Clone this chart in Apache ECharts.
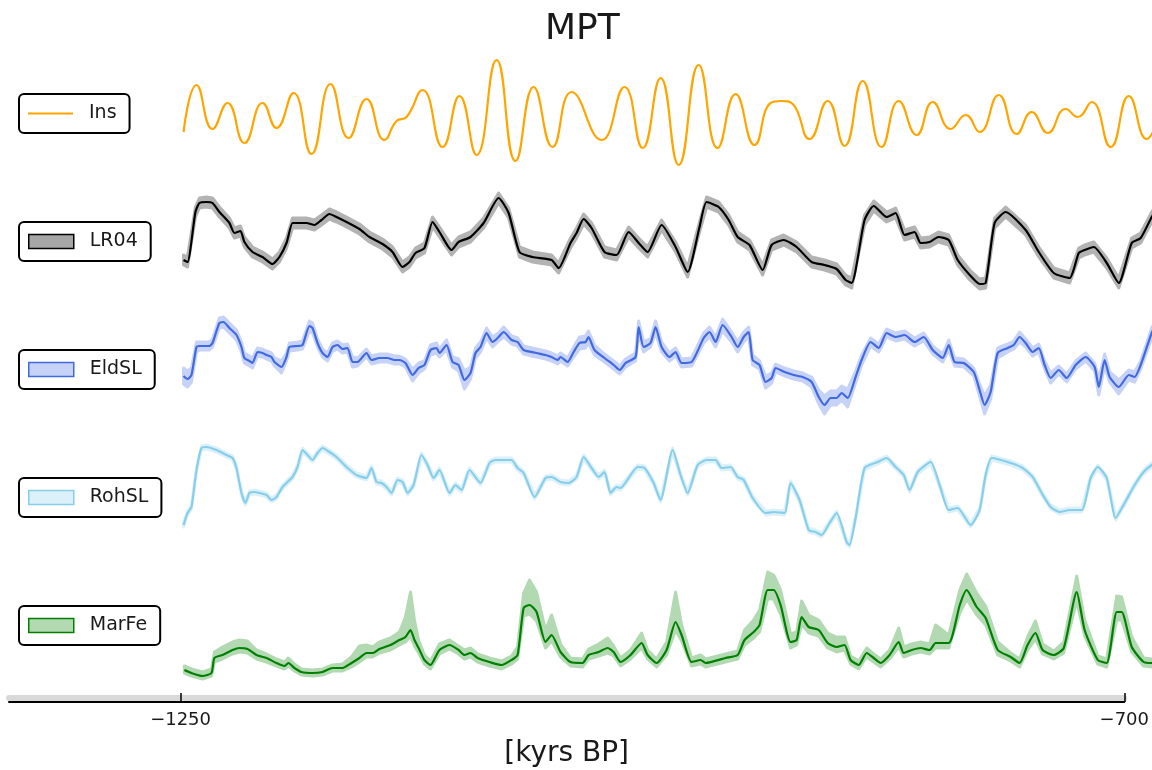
<!DOCTYPE html>
<html>
<head>
<meta charset="utf-8">
<script src="https://cdn.jsdelivr.net/npm/echarts@6/dist/echarts.min.js"></script>
<style>
  html, body { margin: 0; padding: 0; background: #fff; }
  #chart { width: 1152px; height: 770px; }
</style>
</head>
<body>
<div id="chart"></div>
<script>
// Age in kyr (negative = before present) paired with each record's value.

// 65°N summer insolation, W/m²
const ins = [[-1248.8,464],[-1241.3,511],[-1232.0,467],[-1223.3,493],[-1213.5,453],[-1203.0,493],[-1194.9,468],[-1185.0,503],[-1174.6,442],[-1163.6,512],[-1153.1,458],[-1142.7,497],[-1132.3,456],[-1125.3,475],[-1119.5,479],[-1110.2,506],[-1098.6,449],[-1088.8,500],[-1078.9,441],[-1067.3,536],[-1056.3,435],[-1045.8,509],[-1034.8,449],[-1023.8,504],[-1006.4,456],[-993.1,509],[-982.6,448],[-972.2,518],[-961.7,431],[-950.1,531],[-939.1,448],[-928.7,502],[-917.7,451],[-908.4,493],[-902.0,495],[-895.6,492],[-885.8,457],[-875.3,495],[-865.5,450],[-855.0,515],[-844.0,449],[-834.1,495],[-823.7,461],[-814.4,494],[-804.0,467],[-795.3,481],[-787.2,464],[-776.1,501],[-765.7,462],[-757.0,484],[-747.7,463],[-737.3,487],[-730.3,479],[-722.2,494],[-711.2,449],[-700.7,500],[-690.3,457],[-683.0,480]];

// LR04 benthic δ18O stack, ‰
const lr04 = [[-1248.8,4.48],[-1246.5,4.52],[-1241.9,3.52],[-1239.6,3.34],[-1235.5,3.32],[-1232.0,3.34],[-1228.0,3.52],[-1222.2,3.74],[-1219.3,3.94],[-1215.8,3.90],[-1213.5,4.12],[-1208.8,4.32],[-1203.0,4.42],[-1197.2,4.56],[-1193.2,4.42],[-1189.1,4.14],[-1185.6,3.74],[-1183.3,3.74],[-1177.5,3.74],[-1172.9,3.78],[-1168.8,3.68],[-1164.2,3.56],[-1160.1,3.62],[-1154.3,3.72],[-1146.8,3.86],[-1141.0,4.02],[-1133.4,4.16],[-1127.6,4.32],[-1121.8,4.62],[-1117.8,4.52],[-1114.3,4.34],[-1109.1,4.24],[-1104.4,3.72],[-1100.4,3.92],[-1093.4,4.28],[-1089.3,4.12],[-1082.4,4.02],[-1074.8,3.74],[-1066.1,3.24],[-1060.3,3.54],[-1054.0,4.32],[-1046.4,4.42],[-1035.4,4.48],[-1031.3,4.64],[-1024.4,4.14],[-1020.9,3.94],[-1016.8,3.66],[-1012.2,3.84],[-1004.7,4.32],[-997.7,4.38],[-990.7,3.92],[-984.9,4.14],[-979.7,4.32],[-971.6,3.78],[-963.5,4.22],[-956.5,4.72],[-949.6,3.82],[-945.5,3.32],[-938.5,3.42],[-932.7,3.68],[-927.5,4.02],[-920.6,4.18],[-913.0,4.68],[-907.8,4.18],[-900.8,4.08],[-893.3,4.22],[-884.6,4.52],[-877.1,4.58],[-870.1,4.66],[-864.9,4.88],[-861.4,4.94],[-853.9,3.68],[-848.6,3.40],[-841.1,3.62],[-835.9,3.54],[-830.7,3.98],[-824.9,3.92],[-821.4,4.14],[-816.2,4.12],[-811.1,4.02],[-805.1,4.08],[-799.9,4.48],[-792.9,4.78],[-787.2,4.96],[-783.7,4.94],[-778.5,3.74],[-772.1,3.52],[-760.5,3.88],[-752.9,4.32],[-744.2,4.74],[-735.0,4.84],[-729.7,4.34],[-726.3,4.28],[-721.0,4.22],[-713.5,4.54],[-706.5,4.94],[-699.0,4.14],[-693.8,4.04],[-687.4,3.62],[-682.8,3.38]];
const LR04_ERR = 0.1;

// Elderfield sea level, m, with 1σ
const eldSL = [[-1248.8,-72,8],[-1246.5,-75,8],[-1244.2,-71,7],[-1241.3,-43,5],[-1239.6,-42,4],[-1233.8,-42,4],[-1232.0,-39,4],[-1228.0,-19,5],[-1225.6,-18,5],[-1222.2,-24,5],[-1218.1,-31,5],[-1215.2,-43,5],[-1213.5,-54,5],[-1210.6,-57,5],[-1208.8,-59,5],[-1205.9,-48,4],[-1203.0,-49,4],[-1200.7,-51,4],[-1197.8,-53,4],[-1196.1,-58,4],[-1192.0,-63,6],[-1189.1,-53,4],[-1187.4,-43,4],[-1182.7,-42,4],[-1179.8,-41,4],[-1175.8,-22,5],[-1174.0,-24,5],[-1171.1,-39,4],[-1168.2,-49,4],[-1165.3,-53,4],[-1162.4,-43,4],[-1159.5,-41,4],[-1156.6,-45,4],[-1153.7,-44,4],[-1150.8,-58,5],[-1147.9,-58,4],[-1142.7,-49,4],[-1139.8,-56,4],[-1135.2,-54,4],[-1130.5,-54,4],[-1126.5,-56,4],[-1123.6,-56,4],[-1120.1,-59,4],[-1116.0,-71,6],[-1112.5,-64,5],[-1109.1,-61,4],[-1105.6,-46,5],[-1102.1,-44,5],[-1100.4,-49,4],[-1096.3,-41,5],[-1092.8,-58,5],[-1089.3,-61,6],[-1085.9,-76,9],[-1082.4,-69,6],[-1079.5,-49,5],[-1076.6,-43,5],[-1073.1,-29,5],[-1069.6,-38,5],[-1066.1,-33,4],[-1063.2,-28,5],[-1058.6,-36,4],[-1055.1,-38,4],[-1051.6,-46,4],[-1044.1,-49,4],[-1038.9,-51,4],[-1035.4,-53,4],[-1031.9,-56,4],[-1030.2,-53,4],[-1026.1,-58,4],[-1022.6,-48,5],[-1019.2,-39,6],[-1015.7,-38,6],[-1014.0,-33,6],[-1010.5,-46,5],[-1004.7,-54,4],[-999.4,-61,4],[-995.9,-66,4],[-992.5,-59,4],[-986.7,-53,4],[-984.9,-23,6],[-982.0,-43,5],[-978.0,-39,4],[-975.1,-23,6],[-971.6,-43,5],[-967.0,-53,4],[-963.5,-48,4],[-960.0,-59,4],[-954.2,-58,4],[-947.2,-34,5],[-943.8,-28,5],[-940.3,-38,5],[-936.2,-21,6],[-931.0,-33,5],[-927.5,-43,5],[-924.0,-33,5],[-921.1,-28,5],[-918.8,-56,5],[-914.8,-61,4],[-911.3,-78,6],[-907.8,-74,5],[-905.5,-64,4],[-900.3,-68,4],[-895.0,-71,4],[-889.8,-73,4],[-884.6,-78,5],[-880.5,-93,7],[-877.1,-101,9],[-873.6,-94,7],[-870.1,-94,7],[-867.2,-89,7],[-863.7,-94,9],[-859.1,-73,6],[-855.6,-56,5],[-850.4,-38,4],[-845.7,-44,4],[-841.1,-29,4],[-835.9,-33,4],[-830.7,-31,4],[-824.9,-38,4],[-819.6,-33,4],[-814.4,-46,4],[-808.6,-54,4],[-805.1,-41,5],[-801.7,-58,4],[-796.4,-59,4],[-790.6,-68,4],[-787.2,-86,6],[-784.3,-101,9],[-780.8,-88,7],[-776.7,-49,5],[-770.9,-44,4],[-767.4,-41,4],[-764.0,-33,5],[-760.5,-39,4],[-756.4,-48,4],[-752.9,-44,4],[-749.5,-61,4],[-746.0,-74,5],[-741.3,-66,4],[-736.7,-74,4],[-731.5,-61,4],[-725.7,-53,4],[-720.5,-63,4],[-718.1,-83,8],[-714.7,-56,6],[-711.8,-73,5],[-706.5,-83,7],[-700.7,-71,5],[-697.3,-73,5],[-693.8,-61,4],[-687.4,-29,5],[-684.0,-18,5]];

// Rohling sea level, m
const rohSL = [[-1248.8,-93],[-1246.5,-81],[-1244.2,-75],[-1241.3,-38],[-1238.4,-16],[-1235.5,-15],[-1229.7,-18],[-1223.9,-23],[-1220.4,-26],[-1218.1,-36],[-1215.2,-61],[-1212.9,-71],[-1210.6,-61],[-1207.7,-60],[-1204.8,-61],[-1200.7,-63],[-1197.8,-68],[-1194.9,-65],[-1191.4,-55],[-1185.6,-45],[-1182.7,-35],[-1179.8,-18],[-1176.9,-23],[-1174.0,-28],[-1171.1,-21],[-1168.2,-16],[-1164.2,-20],[-1160.1,-25],[-1154.3,-35],[-1148.5,-43],[-1142.7,-46],[-1139.8,-36],[-1136.9,-50],[-1134.0,-51],[-1131.1,-55],[-1128.2,-61],[-1124.7,-48],[-1121.8,-50],[-1118.9,-61],[-1115.4,-53],[-1110.8,-23],[-1107.3,-33],[-1103.8,-46],[-1100.4,-38],[-1094.6,-61],[-1091.1,-53],[-1087.6,-58],[-1083.0,-38],[-1076.6,-51],[-1071.4,-31],[-1067.9,-28],[-1058.6,-28],[-1055.1,-36],[-1051.6,-41],[-1045.2,-65],[-1038.9,-46],[-1035.4,-45],[-1030.2,-50],[-1025.5,-51],[-1020.9,-45],[-1016.8,-25],[-1012.2,-36],[-1008.1,-45],[-1004.7,-40],[-1001.2,-61],[-997.7,-55],[-995.4,-56],[-985.5,-35],[-981.5,-36],[-976.2,-51],[-972.2,-68],[-965.2,-18],[-960.6,-43],[-956.5,-61],[-950.7,-33],[-945.5,-28],[-940.3,-28],[-936.8,-36],[-931.6,-35],[-927.5,-45],[-924.0,-48],[-918.8,-66],[-911.3,-81],[-906.6,-80],[-900.3,-81],[-896.8,-51],[-891.6,-68],[-886.3,-98],[-882.3,-100],[-878.8,-103],[-874.2,-91],[-870.1,-81],[-864.3,-110],[-862.6,-113],[-859.1,-86],[-853.9,-36],[-846.3,-30],[-841.1,-26],[-835.9,-35],[-831.2,-43],[-827.8,-58],[-823.1,-40],[-815.6,-30],[-810.4,-53],[-805.1,-78],[-799.9,-76],[-792.4,-93],[-787.2,-78],[-783.7,-43],[-780.2,-26],[-769.2,-31],[-762.2,-36],[-756.4,-45],[-751.2,-61],[-746.0,-75],[-740.8,-80],[-735.0,-78],[-728.0,-78],[-722.8,-46],[-718.7,-35],[-713.5,-46],[-708.3,-86],[-703.1,-71],[-697.3,-53],[-692.1,-40],[-687.4,-33],[-684.0,-30]];
const ROHSL_ERR = 2;

// Marine iron flux: value, upper and lower spread
const marFe = [[-1248.3,1.8,0.4,0.3],[-1244.2,1.5,0.4,0.3],[-1237.8,1.2,0.4,0.3],[-1232.6,1.5,0.4,0.3],[-1230.9,3.0,0.6,0.4],[-1226.2,3.3,0.8,0.4],[-1220.4,3.8,0.8,0.4],[-1216.4,4.0,0.8,0.4],[-1211.7,3.9,0.8,0.4],[-1206.5,3.3,0.5,0.4],[-1200.7,3.0,0.4,0.4],[-1194.9,2.5,0.4,0.3],[-1190.3,2.2,0.4,0.3],[-1188.0,2.5,0.5,0.3],[-1184.5,2.0,0.4,0.3],[-1180.4,1.6,0.3,0.3],[-1174.0,1.5,0.3,0.3],[-1168.2,1.6,0.3,0.3],[-1162.4,2.0,0.3,0.3],[-1156.6,2.0,0.4,0.3],[-1151.4,2.5,0.6,0.4],[-1146.8,3.0,1.2,0.4],[-1142.7,3.5,0.8,0.4],[-1139.2,3.5,0.6,0.4],[-1135.2,3.9,0.7,0.4],[-1128.8,4.3,0.7,0.5],[-1123.6,4.8,0.8,0.5],[-1120.1,5.1,2.0,0.5],[-1117.2,5.8,3.8,0.6],[-1114.9,4.8,2.0,0.6],[-1112.5,4.0,0.8,0.5],[-1109.1,2.8,0.5,0.4],[-1105.6,2.3,0.4,0.4],[-1100.4,3.8,0.6,0.4],[-1094.6,4.3,0.5,0.4],[-1089.3,3.8,0.4,0.4],[-1085.9,3.3,0.5,0.4],[-1082.4,3.5,0.5,0.4],[-1078.3,3.0,0.4,0.4],[-1071.4,2.6,0.4,0.4],[-1064.4,2.3,0.4,0.4],[-1058.6,2.8,0.4,0.4],[-1055.1,3.3,0.8,0.4],[-1051.6,8.0,1.5,0.8],[-1048.2,8.3,2.5,0.9],[-1044.1,7.6,2.0,0.9],[-1038.9,4.6,1.2,0.6],[-1035.4,5.3,2.0,0.6],[-1030.2,3.6,0.8,0.5],[-1024.4,2.6,0.4,0.4],[-1017.4,2.5,0.4,0.4],[-1013.9,3.3,0.6,0.4],[-1008.1,3.6,0.8,0.4],[-1002.9,4.0,1.0,0.5],[-999.4,3.6,0.6,0.4],[-995.4,2.6,0.4,0.4],[-989.6,3.3,0.5,0.4],[-983.2,4.5,1.0,0.5],[-979.7,3.3,0.5,0.4],[-974.5,2.5,0.4,0.4],[-968.7,3.8,0.8,0.5],[-963.5,6.6,3.0,0.8],[-960.0,5.3,1.0,0.6],[-954.2,2.6,0.4,0.4],[-949.0,2.8,0.5,0.4],[-946.1,2.5,0.4,0.4],[-934.5,3.0,0.4,0.4],[-927.5,3.3,0.4,0.4],[-923.5,4.8,1.0,0.5],[-918.2,5.6,1.2,0.6],[-914.8,6.3,1.5,0.7],[-910.1,9.8,1.8,0.9],[-906.6,9.8,1.5,0.9],[-902.6,8.3,1.5,0.9],[-896.8,4.6,0.8,0.6],[-893.3,4.8,0.8,0.5],[-890.4,7.1,1.6,0.7],[-886.3,6.1,1.2,0.6],[-880.5,5.8,1.0,0.6],[-875.3,4.5,1.0,0.5],[-870.1,4.1,1.0,0.5],[-865.5,4.3,0.8,0.5],[-862.0,2.8,0.4,0.4],[-857.3,2.3,0.4,0.4],[-852.7,3.5,0.5,0.4],[-848.6,3.0,0.4,0.4],[-844.6,2.5,0.4,0.4],[-839.4,3.3,0.5,0.4],[-834.1,4.6,1.4,0.5],[-831.2,3.5,0.6,0.4],[-826.6,3.8,0.6,0.4],[-821.4,4.0,0.6,0.4],[-816.2,3.8,0.6,0.4],[-812.7,4.5,1.8,0.5],[-805.1,4.5,0.8,0.5],[-798.7,8.3,1.5,0.8],[-794.7,9.8,1.6,0.9],[-788.9,8.1,1.4,0.8],[-783.7,7.0,1.2,0.7],[-776.7,3.8,0.8,0.5],[-769.2,3.1,0.4,0.4],[-764.0,2.5,0.4,0.4],[-759.4,4.3,0.8,0.5],[-754.8,5.5,1.2,0.6],[-750.7,3.8,0.6,0.4],[-744.2,3.3,0.4,0.4],[-738.4,4.0,0.6,0.5],[-730.9,9.6,1.6,0.9],[-726.3,5.8,1.0,0.6],[-718.7,2.8,0.4,0.4],[-713.5,2.5,0.4,0.4],[-707.7,7.6,1.6,0.8],[-704.8,7.6,1.5,0.8],[-699.0,4.1,1.0,0.5],[-692.1,2.6,0.4,0.4],[-687.4,2.5,0.4,0.4],[-684.0,2.5,0.4,0.4]];

const xTicks = [-1250, -700];
const AXIS_MIN = -1350, AXIS_MAX = -700, VIEW_MAX = -687.24;

const FONT = 'DejaVu Sans';
const TEXT = '#1a1a1a';
const SMOOTH = 0.2;
const LINE_W = 2.2;

// Hidden value ranges of the five stacked panels
const panelRanges = [
  { min: 420, max: 548 },
  { min: 2.8, max: 5.36, inverse: true },
  { min: -128, max: 0 },
  { min: -128, max: 0 },
  { min: 0, max: 12.8 }
];

// Shaded spread between a lower and an upper curve, placed through the panel's axes;
// the soft edge stroke gives the band its rounded halo
function bandSeries(idx, lower, upper, fill) {
  return {
    type: 'custom', xAxisIndex: idx, yAxisIndex: idx, silent: true, clip: true, z: 1,
    data: [[lower[0][0], lower[0][1]]],
    renderItem(params, api) {
      const pts = upper.map(p => api.coord(p))
        .concat(lower.slice().reverse().map(p => api.coord(p)));
      return { type: 'polygon', shape: { points: pts },
        style: { fill: fill, stroke: fill, lineWidth: 3, lineJoin: 'round' } };
    }
  };
}

function lineSeries(name, idx, data, color, smooth) {
  return { name, type: 'line', xAxisIndex: idx, yAxisIndex: idx, data: data.map(p => [p[0], p[1]]),
    symbol: 'none', showSymbol: false, smooth: smooth, silent: true, z: 3, emphasis: { disabled: true },
    lineStyle: { color, width: LINE_W }, itemStyle: { color } };
}

// Band fills, as they appear at 30% opacity over white
const BAND = { lr04: '#b3b3b3', eld: '#c6d2f6', roh: '#dbf0f9', mar: '#b3d9b3' };

const series = [
  bandSeries(1, lr04.map(p => [p[0], p[1] - LR04_ERR]), lr04.map(p => [p[0], p[1] + LR04_ERR]), BAND.lr04),
  bandSeries(2, eldSL.map(p => [p[0], p[1] - p[2]]), eldSL.map(p => [p[0], p[1] + p[2]]), BAND.eld),
  bandSeries(3, rohSL.map(p => [p[0], p[1] - ROHSL_ERR]), rohSL.map(p => [p[0], p[1] + ROHSL_ERR]), BAND.roh),
  bandSeries(4, marFe.map(p => [p[0], p[1] - p[3]]), marFe.map(p => [p[0], p[1] + p[2]]), BAND.mar),
  lineSeries('Ins', 0, ins, '#FFA500', 0.5),
  lineSeries('LR04', 1, lr04, '#000000', SMOOTH),
  lineSeries('EldSL', 2, eldSL, '#4169E1', SMOOTH),
  lineSeries('RohSL', 3, rohSL, '#87CEEB', SMOOTH),
  lineSeries('MarFe', 4, marFe, '#008000', SMOOTH)
];

const legendBase = {
  left: 19, selectedMode: false, orient: 'horizontal',
  padding: [10, 13, 10, 9], itemWidth: 45, itemHeight: 14, itemGap: 0,
  borderColor: '#000', borderWidth: 2, borderRadius: 5, backgroundColor: '#fff',
  textStyle: { fontFamily: FONT, fontSize: 19, color: TEXT, padding: [0, 0, 0, 11] }
};
function patch(name, fill, border) {
  return { name, icon: 'rect', itemStyle: { color: fill, borderColor: border, borderWidth: 1.5 } };
}
const legends = [
  Object.assign({}, legendBase, { top: 94, itemHeight: 2,
    data: [{ name: 'Ins', icon: 'rect', itemStyle: { color: '#FFA500', borderWidth: 0 } }] }),
  Object.assign({}, legendBase, { top: 222, data: [patch('LR04', '#a6a6a6', '#000')] }),
  Object.assign({}, legendBase, { top: 350, data: [patch('EldSL', BAND.eld, '#4169E1')] }),
  Object.assign({}, legendBase, { top: 478, data: [patch('RohSL', BAND.roh, '#87CEEB')] }),
  Object.assign({}, legendBase, { top: 606, data: [patch('MarFe', BAND.mar, '#008000')] })
];

const grids = panelRanges.map((r, i) => ({ left: 9, right: 0, top: 48 + 128 * i, height: 128 }));
grids.push({ left: 9, width: 1121, top: 690, height: 12 });

const xAxes = panelRanges.map((r, i) => ({ gridIndex: i, type: 'value', min: AXIS_MIN, max: VIEW_MAX, show: false }));
xAxes.push({
  gridIndex: 5, type: 'value', min: AXIS_MIN, max: AXIS_MAX, position: 'bottom', offset: -4,
  axisLine: { show: true, onZero: false, lineStyle: { color: '#d9d9d9', width: 6 } },
  axisTick: { show: false }, axisLabel: { show: false }, splitLine: { show: false }
});
xAxes.push({
  gridIndex: 5, type: 'value', min: AXIS_MIN, max: AXIS_MAX, position: 'bottom',
  axisLine: { show: true, onZero: false, lineStyle: { color: '#000', width: 2 } },
  axisTick: { show: true, inside: true, length: 9, customValues: xTicks, lineStyle: { color: '#000', width: 1.5 } },
  axisLabel: { show: true, customValues: xTicks, showMinLabel: true, showMaxLabel: true, margin: 9,
    fontFamily: FONT, fontSize: 18, color: TEXT, formatter: v => String(v).replace('-', '\u2212') },
  splitLine: { show: false },
  name: '[kyrs BP]', nameLocation: 'middle', nameGap: 38,
  nameTextStyle: { fontFamily: FONT, fontSize: 28, color: TEXT }
});

const yAxes = panelRanges.map((r, i) => Object.assign({ gridIndex: i, type: 'value', show: false }, r));
yAxes.push({ gridIndex: 5, type: 'value', show: false });

const chart = echarts.init(document.getElementById('chart'), null, { renderer: 'canvas' });
chart.setOption({
  animation: false,
  backgroundColor: '#fff',
  title: { text: 'MPT', left: 540, top: 7, textStyle: { fontFamily: FONT, fontSize: 36, fontWeight: 'normal', color: TEXT } },
  legend: legends,
  grid: grids,
  xAxis: xAxes,
  yAxis: yAxes,
  series
});
</script>
</body>
</html>
